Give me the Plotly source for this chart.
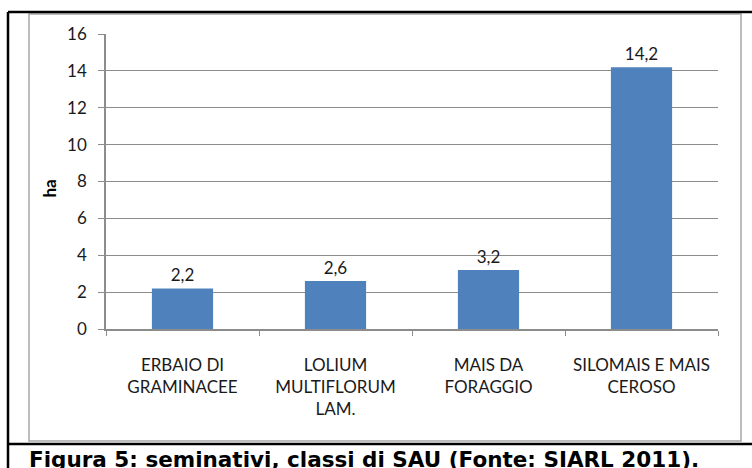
import plotly.graph_objects as go

categories = ["ERBAIO DI<br>GRAMINACEE", "LOLIUM<br>MULTIFLORUM<br>LAM.",
              "MAIS DA<br>FORAGGIO", "SILOMAIS E MAIS<br>CEROSO"]
values = [2.2, 2.6, 3.2, 14.2]
y_ticks = [0, 2, 4, 6, 8, 10, 12, 14, 16]
y_title = "ha"
caption = "Figura 5: seminativi, classi di SAU (Fonte: SIARL 2011)."

W, H = 752, 468
L, R, T, B = 106, 718, 34, 329  # plot area in pixels


def px(x):
    return (x - L) / (R - L)


def py(y):
    return (B - y) / (B - T)


FONT = "Lato"
fig = go.Figure(go.Bar(
    x=categories, y=values, width=0.4,
    marker=dict(color="#4F81BD", line=dict(width=0)),
    texttemplate="%{y:.1f}", textposition="outside",
    textfont=dict(family=FONT, size=17, color="#1a1a1a"),
    cliponaxis=False,
))

shapes = [
    # gray chart border
    dict(type="rect", xref="paper", yref="paper", x0=px(29), x1=px(741), y0=py(441), y1=py(14),
         line=dict(color="#a6a6a6", width=1.5), layer="below"),
    # black frame lines
    dict(type="line", xref="paper", yref="paper", x0=px(8), x1=px(760), y0=py(12), y1=py(12),
         line=dict(color="black", width=2.5)),
    dict(type="line", xref="paper", yref="paper", x0=px(8), x1=px(8), y0=py(12), y1=py(475),
         line=dict(color="black", width=2.5)),
    dict(type="line", xref="paper", yref="paper", x0=px(8), x1=px(760), y0=py(444), y1=py(444),
         line=dict(color="black", width=2.5)),
]

annotations = [
    dict(text="<b>" + y_title + "</b>", xref="paper", yref="paper", x=px(49), y=py(188.5),
         textangle=-90, showarrow=False, font=dict(family=FONT, size=17, color="black"),
         xanchor="center", yanchor="middle"),
    dict(text="<b>" + caption + "</b>", xref="paper", yref="paper", x=px(27), y=py(459),
         showarrow=False, font=dict(family="DejaVu Sans", size=21.5, color="black"),
         xanchor="left", yanchor="middle"),
]

fig.update_layout(
    width=W, height=H,
    margin=dict(l=L, r=W - R, t=T, b=H - B, pad=0),
    paper_bgcolor="white", plot_bgcolor="white",
    separators=",.",
    showlegend=False,
    bargap=0.6,
    shapes=shapes,
    annotations=annotations,
    font=dict(family=FONT, size=17, color="black"),
)
fig.update_yaxes(
    range=[0, 16], tickvals=y_ticks, showgrid=True, gridcolor="#8c8c8c", gridwidth=1.2,
    showline=True, linecolor="#8c8c8c", linewidth=1.5, ticks="outside", ticklen=6,
    tickcolor="#8c8c8c", tickfont=dict(family=FONT, size=17, color="#1a1a1a"),
    ticklabelstandoff=8, zeroline=False,
)
fig.update_xaxes(
    showline=True, linecolor="#8c8c8c", linewidth=1.5, ticks="outside", ticklen=5,
    tickcolor="#8c8c8c", tickson="boundaries", showgrid=False,
    tickfont=dict(family=FONT, size=17, color="#1a1a1a"), ticklabelstandoff=20,
)

fig.write_html("out.html", config={"displayModeBar": False},
               post_script="document.body.style.margin='0';document.body.style.overflow='hidden';")
